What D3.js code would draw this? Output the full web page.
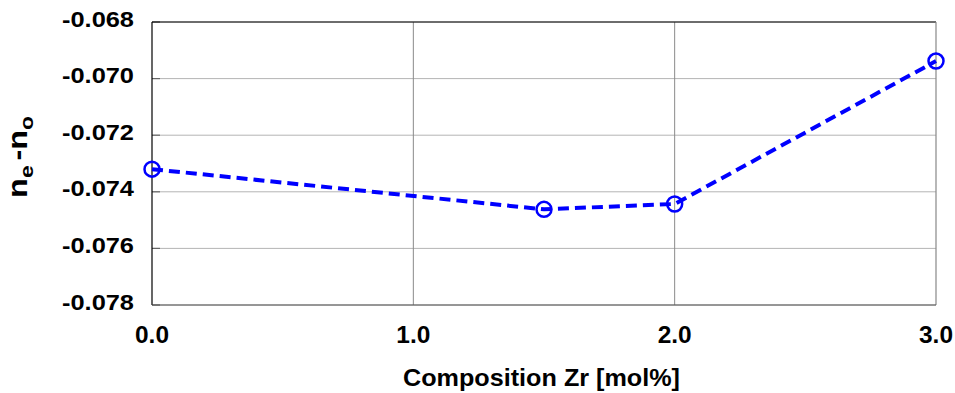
<!DOCTYPE html>
<html>
<head>
<meta charset="utf-8">
<script src="https://cdn.jsdelivr.net/npm/d3@7"></script>
<style>
html,body{margin:0;padding:0;background:#fff;}
svg{display:block;}
text{font-family:"Liberation Sans",Arial,sans-serif;font-weight:bold;fill:#000;}
</style>
</head>
<body>
<svg id="chart" width="955" height="393"></svg>
<script>
// Data
const composition = [0.0, 1.5, 2.0, 3.0];
const birefringence = [-0.07320, -0.07462, -0.07443, -0.06938];
const xTicks = [0, 1, 2, 3];
const yTicks = [-0.078, -0.076, -0.074, -0.072, -0.070, -0.068];
const xTitle = "Composition Zr [mol%]";

const svg = d3.select("#chart");
const L = 152, R = 936, T = 22, B = 305;
const x = d3.scaleLinear().domain([0, 3]).range([L, R]);
const y = d3.scaleLinear().domain([-0.078, -0.068]).range([B, T]);

// horizontal gridlines
svg.append("g").selectAll("line").data(yTicks).join("line")
  .attr("x1", L).attr("x2", R)
  .attr("y1", d => y(d)).attr("y2", d => y(d))
  .attr("stroke", "#b4b4b4").attr("stroke-width", 1);
// vertical gridlines
svg.append("g").selectAll("line").data(xTicks.slice(1, -1)).join("line")
  .attr("x1", d => x(d)).attr("x2", d => x(d))
  .attr("y1", T).attr("y2", B)
  .attr("stroke", "#8a8a8a").attr("stroke-width", 1);
// inner ticks on left
svg.append("g").selectAll("line").data(yTicks).join("line")
  .attr("x1", L).attr("x2", L + 8)
  .attr("y1", d => y(d)).attr("y2", d => y(d))
  .attr("stroke", "#666").attr("stroke-width", 1.2);

// border
svg.append("line").attr("x1", L).attr("x2", R).attr("y1", T).attr("y2", T).attr("stroke", "#000").attr("stroke-width", 1.2);
svg.append("line").attr("x1", L).attr("x2", L).attr("y1", T).attr("y2", B).attr("stroke", "#000").attr("stroke-width", 1.2);
svg.append("line").attr("x1", R).attr("x2", R).attr("y1", T).attr("y2", B).attr("stroke", "#888").attr("stroke-width", 1.2);
svg.append("line").attr("x1", L).attr("x2", R).attr("y1", B).attr("y2", B).attr("stroke", "#555").attr("stroke-width", 1.2);

// y tick labels
svg.append("g").selectAll("text").data(yTicks).join("text")
  .attr("x", 134).attr("y", d => y(d) + 4.5)
  .attr("text-anchor", "end")
  .attr("font-size", 22.5)
  .attr("textLength", 72).attr("lengthAdjust", "spacingAndGlyphs")
  .text(d => d3.format(".3f")(d).replace("−", "-"));

// x tick labels
svg.append("g").selectAll("text").data(xTicks).join("text")
  .attr("x", d => x(d)).attr("y", 343)
  .attr("text-anchor", "middle")
  .attr("font-size", 23)
  .attr("textLength", 34).attr("lengthAdjust", "spacingAndGlyphs")
  .text(d => d3.format(".1f")(d));

// x title
svg.append("text")
  .attr("x", 541.5).attr("y", 386)
  .attr("text-anchor", "middle")
  .attr("font-size", 24)
  .attr("textLength", 277).attr("lengthAdjust", "spacingAndGlyphs")
  .text(xTitle);

// y title
const yt = svg.append("text")
  .attr("transform", "translate(27,157) rotate(-90) scale(1.2,1)")
  .attr("text-anchor", "middle")
  .attr("font-size", 27);
yt.append("tspan").text("n");
yt.append("tspan").attr("font-size", 19).attr("dy", 6).text("e");
yt.append("tspan").attr("dy", -6).attr("dx", 4).text("-");
yt.append("tspan").text("n");
yt.append("tspan").attr("font-size", 19).attr("dy", 6).text("o");

// line
const pts = composition.map((c, i) => [c, birefringence[i]]);
svg.append("path")
  .datum(pts)
  .attr("d", d3.line().x(d => x(d[0])).y(d => y(d[1])))
  .attr("fill", "none")
  .attr("stroke", "#0000ff")
  .attr("stroke-width", 4)
  .attr("stroke-dasharray", "11,6");

svg.append("g").selectAll("circle").data(pts).join("circle")
  .attr("cx", d => x(d[0])).attr("cy", d => y(d[1]))
  .attr("r", 7.5)
  .attr("fill", "none")
  .attr("stroke", "#0000ff")
  .attr("stroke-width", 2.5);
</script>
</body>
</html>
